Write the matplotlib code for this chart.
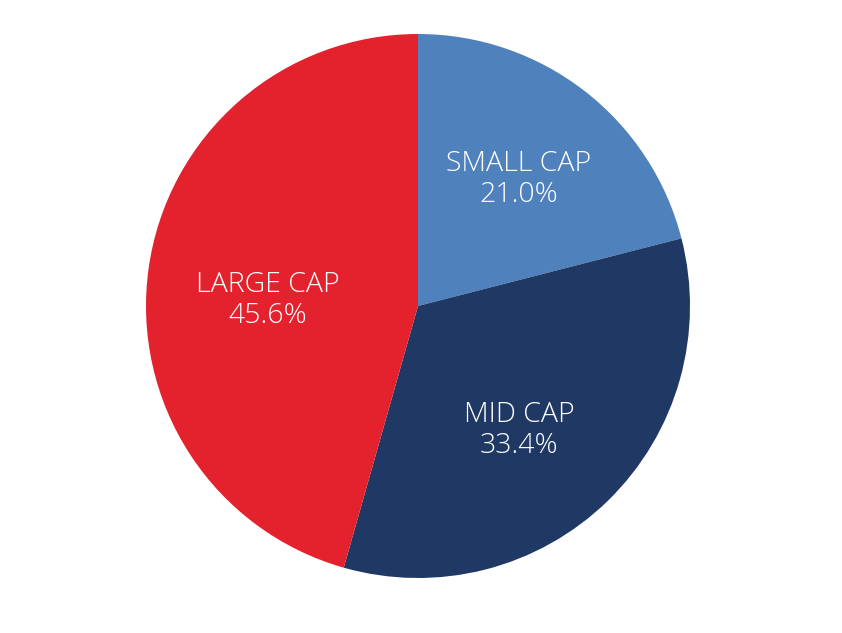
import matplotlib.pyplot as plt
import numpy as np

labels = ["SMALL CAP", "MID CAP", "LARGE CAP"]
shares = [21.0, 33.4, 45.6]
colors = ["#4F81BD", "#1F3864", "#E3222E"]
# label centres as fractions of the radius
label_xy = [(0.371, 0.466), (0.371, -0.459), (-0.551, 0.020)]

fig = plt.figure(figsize=(8.42, 6.33), dpi=100)
ax = fig.add_axes([(418 - 272) / 842, (633 - 578) / 633, 544 / 842, 544 / 633])

ax.pie(shares, colors=colors, startangle=90, counterclock=False,
       wedgeprops=dict(linewidth=0))
ax.set_xlim(-1, 1)
ax.set_ylim(-1, 1)
ax.set_aspect("equal")

for lab, val, (x, y) in zip(labels, shares, label_xy):
    ax.text(x, y, f"{lab}\n{val:.1f}%",
            ha="center", va="center", color="white", fontsize=20.5,
            family="Open Sans", weight="light", linespacing=1.15)

fig.savefig("out.png", dpi=100)
